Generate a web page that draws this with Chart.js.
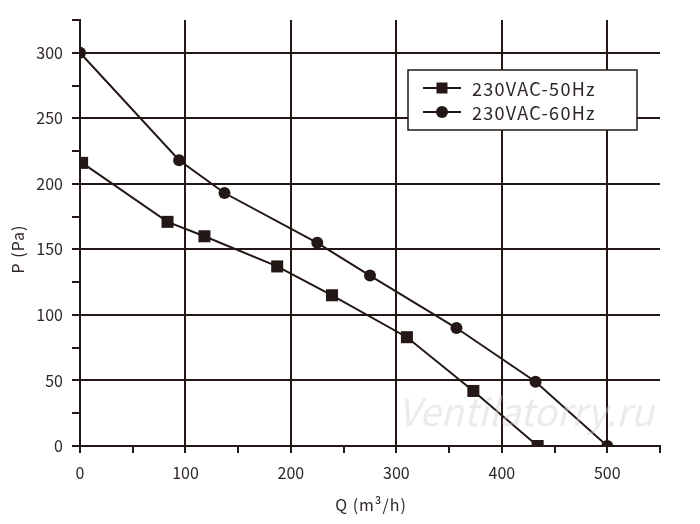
<!DOCTYPE html>
<html>
<head>
<meta charset="utf-8">
<script src="https://cdn.jsdelivr.net/npm/chart.js@4/dist/chart.umd.min.js"></script>
<style>
  html, body { margin: 0; padding: 0; background: #ffffff; }
  #wrap { width: 700px; height: 524px; }
</style>
</head>
<body>
<div id="wrap"><canvas id="c" width="700" height="524"></canvas></div>
<script>
// ---- data ----
const seriesNames = ['230VAC-50Hz', '230VAC-60Hz'];
const q50 = [2, 83, 118, 187, 239, 310, 373, 434];
const p50 = [216, 171, 160, 137, 115, 83, 42, 0];
const q60 = [0, 94, 137, 225, 275, 357, 432, 500];
const p60 = [300, 218, 193, 155, 130, 90, 49, 0];
const xTitle = 'Q (m³/h)';
const yTitle = 'P (Pa)';
const watermark = 'Ventilatorry.ru';

const INK = '#231815';
const TXT = '#2e2725';
const FONT = "'Noto Sans CJK SC', 'Noto Sans', sans-serif";

function pts(xs, ys) { return xs.map((x, i) => ({ x: x, y: ys[i] })); }

const decor = {
  id: 'decor',
  afterDatasetsDraw(chart) {
    const ctx = chart.ctx;
    const ca = chart.chartArea;
    ctx.save();
    // faint watermark
    ctx.font = 'italic 38px ' + FONT;
    ctx.fillStyle = 'rgba(205,205,205,0.4)';
    ctx.textAlign = 'left';
    ctx.textBaseline = 'middle';
    ctx.fillText(watermark, ca.left + 318, ca.top + 392);

    // legend box
    const x0 = ca.left + 328, y0 = ca.top + 50, w = 229, h = 60;
    ctx.fillStyle = '#ffffff';
    ctx.fillRect(x0, y0, w, h);
    ctx.strokeStyle = INK;
    ctx.lineWidth = 1.5;
    ctx.strokeRect(x0, y0, w, h);
    chart.data.datasets.forEach((ds, i) => {
      const cy = y0 + 18 + i * 24;
      ctx.strokeStyle = INK;
      ctx.lineWidth = 2;
      ctx.beginPath();
      ctx.moveTo(x0 + 15, cy);
      ctx.lineTo(x0 + 53, cy);
      ctx.stroke();
      ctx.fillStyle = INK;
      if (ds.pointStyle === 'rect') {
        ctx.fillRect(x0 + 34 - 5.5, cy - 5.5, 11, 11);
      } else {
        ctx.beginPath();
        ctx.arc(x0 + 34, cy, 6, 0, Math.PI * 2);
        ctx.fill();
      }
      ctx.fillStyle = TXT;
      ctx.font = '18px ' + FONT;
      ctx.textBaseline = 'middle';
      ctx.textAlign = 'left';
      if ('letterSpacing' in ctx) ctx.letterSpacing = '1.3px';
      ctx.fillText(ds.label, x0 + 64, cy + 1);
      if ('letterSpacing' in ctx) ctx.letterSpacing = '0px';
    });

    // axis titles
    ctx.fillStyle = TXT;
    ctx.font = '16px ' + FONT;
    ctx.textAlign = 'center';
    ctx.textBaseline = 'middle';
    if ('letterSpacing' in ctx) ctx.letterSpacing = '1px';
    ctx.fillText(xTitle, 371, 505);
    ctx.translate(18, 249);
    ctx.rotate(-Math.PI / 2);
    ctx.fillText(yTitle, 0, 0);
    ctx.restore();
  }
};

new Chart(document.getElementById('c'), {
  type: 'line',
  data: {
    datasets: [
      {
        label: seriesNames[0],
        data: pts(q50, p50),
        borderColor: INK,
        backgroundColor: INK,
        borderWidth: 2,
        pointStyle: 'rect',
        pointRadius: 8.5,
        pointHoverRadius: 8.5,
        pointBorderWidth: 0,
        tension: 0
      },
      {
        label: seriesNames[1],
        data: pts(q60, p60),
        borderColor: INK,
        backgroundColor: INK,
        borderWidth: 2,
        pointStyle: 'circle',
        pointRadius: 6,
        pointHoverRadius: 6,
        pointBorderWidth: 0,
        tension: 0
      }
    ]
  },
  options: {
    responsive: false,
    animation: false,
    devicePixelRatio: 1,
    layout: { padding: { top: 20, right: 40, bottom: 0, left: 0 } },
    plugins: {
      legend: { display: false },
      tooltip: { enabled: false }
    },
    scales: {
      x: {
        type: 'linear',
        min: 0,
        max: 550,
        afterFit(s) { s.height = 78; },
        border: { display: true, color: INK, width: 2 },
        grid: {
          color: c => (c.tick && c.tick.value % 100 === 0 && c.tick.value > 0 && c.tick.value < 550) ? INK : 'rgba(0,0,0,0)',
          lineWidth: 2,
          drawTicks: true,
          tickLength: 7,
          tickColor: INK,
          tickWidth: 2
        },
        ticks: {
          stepSize: 50,
          autoSkip: false,
          maxRotation: 0,
          color: TXT,
          font: { size: 16, family: FONT },
          padding: 10,
          callback: v => (v % 100 === 0 ? String(v) : '')
        },
        title: { display: false }
      },
      y: {
        type: 'linear',
        min: 0,
        max: 325,
        afterFit(s) { s.width = 80; },
        border: { display: true, color: INK, width: 2 },
        grid: {
          color: c => (c.tick && c.tick.value % 50 === 0 && c.tick.value > 0) ? INK : 'rgba(0,0,0,0)',
          lineWidth: 2,
          drawTicks: true,
          tickLength: 8,
          tickColor: INK,
          tickWidth: 2
        },
        ticks: {
          stepSize: 25,
          autoSkip: false,
          color: TXT,
          font: { size: 16, family: FONT },
          padding: 9,
          callback: v => (v % 50 === 0 ? String(v) : '')
        },
        title: { display: false }
      }
    }
  },
  plugins: [decor]
});
</script>
</body>
</html>
